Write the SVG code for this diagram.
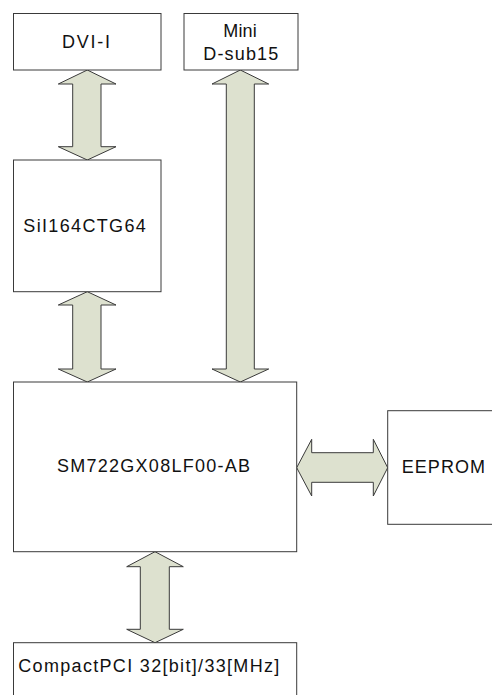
<svg xmlns="http://www.w3.org/2000/svg" width="492" height="695" viewBox="0 0 492 695">
<style>
.box{fill:#fff;stroke:#3a3a3a;stroke-width:1}
.arr{fill:#dde1cf;stroke:#3a3a3a;stroke-width:1;stroke-linejoin:miter}
.t{font-family:"Liberation Sans",Arial,sans-serif;fill:#111;text-anchor:start;font-size:18px}
</style>
<rect width="492" height="695" fill="#fff"/>
<g id="connectors">
<path class="arr" d="M87.3,70 L116,84 L101,84 L101,146.7 L116,146.7 L87.3,160 L58.3,146.7 L72.7,146.7 L72.7,84 L58.3,84 Z"/>
<path class="arr" d="M87.3,291.7 L116,305 L101,305 L101,369 L116,369 L87.3,382 L58.3,369 L72.7,369 L72.7,305 L58.3,305 Z"/>
<path class="arr" d="M240.3,70 L268.7,84 L254.3,84 L254.3,369 L268.7,369 L240.3,382 L212,369 L226.3,369 L226.3,84 L212,84 Z"/>
<path class="arr" d="M296.7,467.7 L311.7,439.3 L311.7,452.7 L373.3,452.7 L373.3,439.3 L387.7,467.7 L373.3,496 L373.3,482.3 L311.7,482.3 L311.7,496 Z"/>
<path class="arr" d="M155,551.7 L183.3,566.7 L169.3,566.7 L169.3,629.3 L183.3,629.3 L155,642.7 L126.7,629.3 L140.3,629.3 L140.3,566.7 L126.7,566.7 Z"/>
</g>
<g id="dvi">
<rect class="box" x="13.5" y="13.5" width="147.5" height="56.5"/>
<text class="t" x="62" y="47.5" textLength="48" lengthAdjust="spacing">DVI-I</text>
</g>
<g id="minidsub">
<rect class="box" x="184" y="13.5" width="114" height="56.5"/>
<text class="t" x="223.3" y="36.7" textLength="33.4" lengthAdjust="spacing">Mini</text>
<text class="t" x="203.3" y="60" textLength="75" lengthAdjust="spacing">D-sub15</text>
</g>
<g id="sil">
<rect class="box" x="13.5" y="160" width="147.5" height="131.7"/>
<text class="t" x="23.3" y="231.7" textLength="122.5" lengthAdjust="spacing">SiI164CTG64</text>
</g>
<g id="sm722">
<rect class="box" x="13.5" y="382" width="283.2" height="169.7"/>
<text class="t" x="57" y="472.3" textLength="193" lengthAdjust="spacing">SM722GX08LF00-AB</text>
</g>
<g id="eeprom">
<rect class="box" x="387.7" y="410.7" width="120" height="113.6"/>
<text class="t" x="401.7" y="473.3" textLength="83.3" lengthAdjust="spacing">EEPROM</text>
</g>
<g id="cpci">
<rect class="box" x="13.5" y="642.7" width="283.2" height="70"/>
<text class="t" x="18.3" y="671.7" textLength="261" lengthAdjust="spacing">CompactPCI 32[bit]/33[MHz]</text>
</g>
</svg>
